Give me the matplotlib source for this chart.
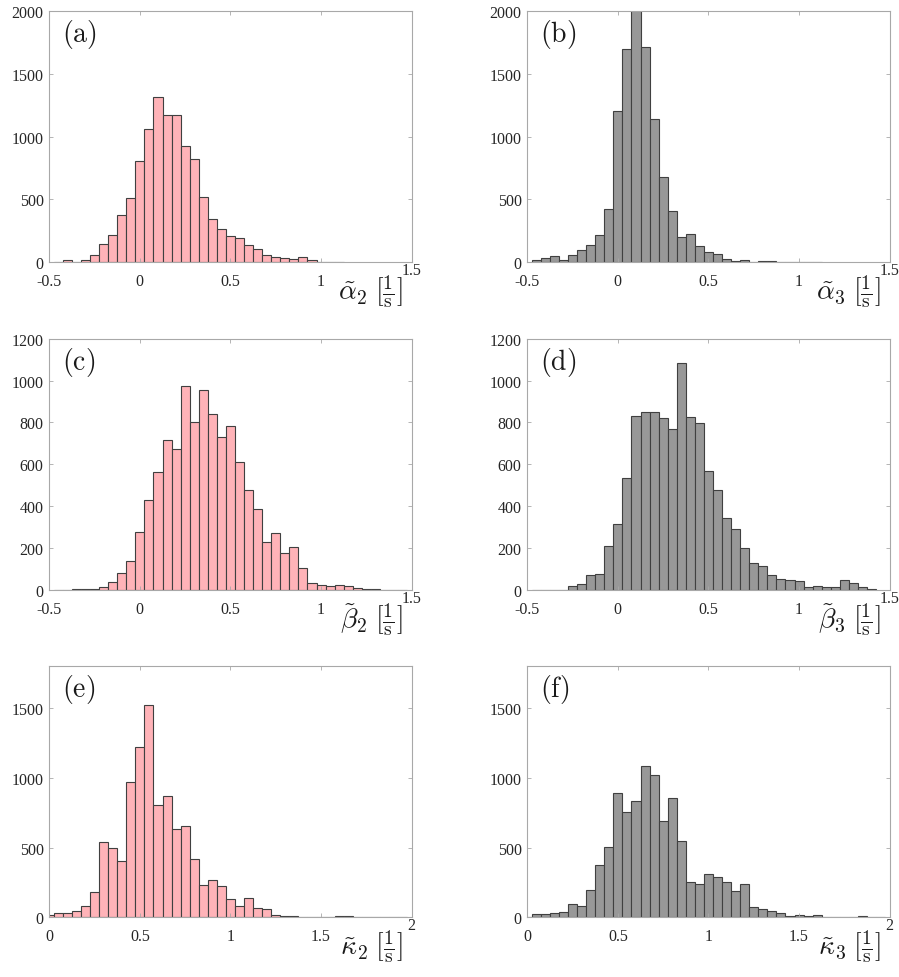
"""
Histogramas de los parámetros identificados (alpha, beta, kappa) para dos casos.
Estilo MATLAB: ticks hacia dentro, caja completa, etiquetas LaTeX.
"""

import matplotlib
matplotlib.use("Agg")
import matplotlib.pyplot as plt
from matplotlib.transforms import ScaledTranslation
import numpy as np

plt.rcParams["mathtext.fontset"] = "cm"
plt.rcParams["font.family"] = ["Liberation Serif", "DejaVu Serif"]

BIN_W = 0.05

# ── datos (conteos por bin) ───────────────────────────────────────────────────
# alpha: bordes desde -0.475
alpha2_counts = [5, 21, 5, 16, 61, 145, 214, 373, 513, 804, 1061, 1315, 1175, 1172,
                 926, 825, 521, 341, 267, 209, 193, 135, 108, 61, 45, 32, 24, 40,
                 21, 0, 0, 2]
alpha3_counts = [19, 34, 48, 19, 58, 98, 140, 215, 424, 1203, 1698, 2050, 1714, 1139,
                 678, 408, 204, 225, 130, 79, 66, 26, 8, 19, 3, 8, 11, 0, 0, 0, 0, 2]
# beta: bordes desde -0.475
beta2_counts = [0, 0, 6, 6, 6, 13, 40, 79, 140, 279, 430, 563, 716, 671, 973, 802,
                957, 840, 729, 784, 611, 476, 387, 227, 270, 175, 206, 106, 32, 24,
                17, 22, 17, 8, 3, 3, 1, 1, 1]
beta3_counts = [0, 0, 0, 2, 17, 27, 71, 76, 210, 314, 533, 832, 848, 852, 821, 771,
                1085, 824, 798, 567, 478, 343, 289, 202, 129, 114, 71, 52, 48, 41,
                16, 19, 13, 13, 46, 33, 13, 5]
# kappa: bordes desde -0.025
kappa2_counts = [20, 29, 29, 43, 79, 183, 536, 500, 407, 969, 1219, 1519, 807, 871,
                 631, 657, 417, 229, 271, 224, 129, 83, 136, 69, 57, 19, 12, 7, 5,
                 2, 2, 2, 10, 7, 1, 1, 0, 1, 1, 2]
kappa3_counts = [0, 21, 21, 31, 40, 93, 83, 195, 374, 502, 890, 755, 831, 1081, 1019,
                 688, 852, 545, 255, 238, 310, 286, 255, 188, 238, 74, 60, 45, 31,
                 12, 17, 12, 14, 2, 2, 2, 2, 12, 5, 2]

panel_letters = ["(a)", "(b)", "(c)", "(d)", "(e)", "(f)"]
x_labels = [r"$\tilde{\alpha}_2\;[\frac{1}{\mathrm{s}}]$",
            r"$\tilde{\alpha}_3\;[\frac{1}{\mathrm{s}}]$",
            r"$\tilde{\beta}_2\;[\frac{1}{\mathrm{s}}]$",
            r"$\tilde{\beta}_3\;[\frac{1}{\mathrm{s}}]$",
            r"$\tilde{\kappa}_2\;[\frac{1}{\mathrm{s}}]$",
            r"$\tilde{\kappa}_3\;[\frac{1}{\mathrm{s}}]$"]

PINK = "#FFB3B8"
GRAY = "#989898"
EDGE = "#404040"
BOX = "#A8A8A8"

# (counts, primer borde, xlim, xticks, ylim, yticks, color)
panels = [
    (alpha2_counts, -0.475, (-0.5, 1.5), [-0.5, 0, 0.5, 1, 1.5], 2000, np.arange(0, 2001, 500), PINK),
    (alpha3_counts, -0.475, (-0.5, 1.5), [-0.5, 0, 0.5, 1, 1.5], 2000, np.arange(0, 2001, 500), GRAY),
    (beta2_counts, -0.475, (-0.5, 1.5), [-0.5, 0, 0.5, 1, 1.5], 1200, np.arange(0, 1201, 200), PINK),
    (beta3_counts, -0.475, (-0.5, 1.5), [-0.5, 0, 0.5, 1, 1.5], 1200, np.arange(0, 1201, 200), GRAY),
    (kappa2_counts, -0.025, (0, 2), [0, 0.5, 1, 1.5, 2], 1800, np.arange(0, 1501, 500), PINK),
    (kappa3_counts, -0.025, (0, 2), [0, 0.5, 1, 1.5, 2], 1800, np.arange(0, 1501, 500), GRAY),
]

fig = plt.figure(figsize=(8.99, 9.78), dpi=100)

lefts = [0.0548, 0.5865]
bottoms = [0.7308, 0.3957, 0.0610]
W, H = 0.4031, 0.2570

for i, (counts, start, xlim, xticks, ytop, yticks, color) in enumerate(panels):
    ax = fig.add_axes([lefts[i % 2], bottoms[i // 2], W, H])
    edges = start + BIN_W * np.arange(len(counts))
    ax.bar(edges, counts, width=BIN_W, align="edge", color=color,
           edgecolor=EDGE, linewidth=0.8)
    ax.set_xlim(*xlim)
    ax.set_ylim(0, ytop)
    ax.set_xticks(xticks)
    ax.set_xticklabels([f"{t:g}" for t in xticks])
    ax.set_yticks(yticks)
    ax.tick_params(direction="in", length=3, width=0.6, colors=BOX,
                   labelcolor="#262626", labelsize=11.5,
                   top=True, right=True)
    ax.tick_params(axis="x", pad=8)
    ax.tick_params(axis="y", pad=4)
    for s in ax.spines.values():
        s.set_color(BOX)
        s.set_linewidth(0.8)

    # la última etiqueta del eje x aparece algo elevada en el original
    last = ax.get_xticklabels()[-1]
    last.set_transform(last.get_transform() + ScaledTranslation(0, 8 / 72, fig.dpi_scale_trans))

    ax.text(0.035, 0.975, r"$\mathrm{" + panel_letters[i] + "}$", transform=ax.transAxes,
            fontsize=20, va="top", ha="left", color="#1a1a1a")
    ax.text(0.975, -0.04, x_labels[i], transform=ax.transAxes,
            fontsize=20, va="top", ha="right", color="#1a1a1a")

fig.savefig("out.png", dpi=100)
